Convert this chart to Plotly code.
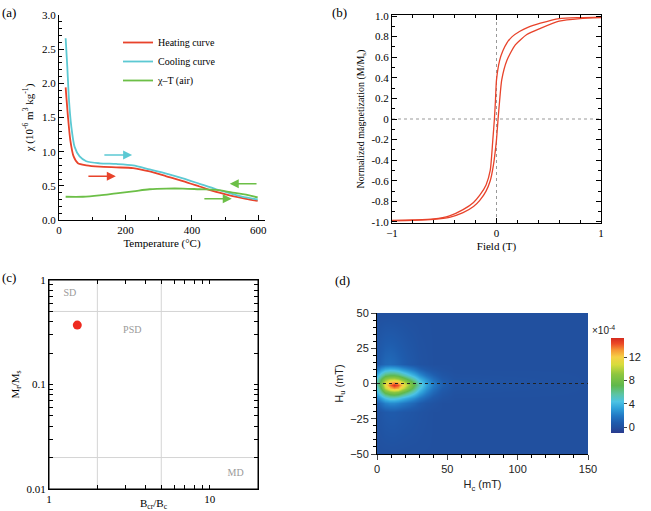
import math
import plotly.graph_objects as go

# ---------------- data ----------------
# (a) susceptibility vs temperature
temp_heat = [20, 27, 34, 44, 57, 82, 122, 172, 223, 273, 323, 373, 423, 473, 523, 563, 598]
chi_heat = [1.94, 1.51, 1.17, 0.93, 0.83, 0.80, 0.78, 0.77, 0.76, 0.71, 0.64, 0.57, 0.49, 0.41, 0.35, 0.31, 0.28]
temp_cool = [20, 25, 30, 37, 47, 62, 82, 122, 172, 223, 273, 323, 373, 423, 473, 523, 563, 598]
chi_cool = [2.66, 2.24, 1.76, 1.37, 1.07, 0.93, 0.86, 0.83, 0.82, 0.80, 0.74, 0.68, 0.61, 0.53, 0.45, 0.38, 0.33, 0.30]
temp_air = [20, 72, 122, 172, 223, 273, 323, 373, 423, 473, 523, 563, 598]
chi_air = [0.34, 0.34, 0.36, 0.39, 0.42, 0.45, 0.46, 0.46, 0.45, 0.44, 0.40, 0.37, 0.33]
legend_names = ["Heating curve", "Cooling curve", "χ–T (air)"]
# arrows: (x_start, x_end, y)
arrow_heat = (84, 171, 0.64)
arrow_cool = (132, 220, 0.95)
arrow_air1 = (599, 514, 0.53)
arrow_air2 = (433, 520, 0.31)
temp_ticks = [0, 200, 400, 600]
chi_ticks = [0.0, 0.5, 1.0, 1.5, 2.0, 2.5, 3.0]

# (b) hysteresis loop
h_desc = [1.0, 0.8, 0.6, 0.42, 0.30, 0.22, 0.15, 0.10, 0.06, 0.03, 0.0, -0.01, -0.02, -0.035, -0.06, -0.10, -0.16, -0.22, -0.32, -0.45, -0.6, -0.8, -1.0]
m_desc = [0.99, 0.985, 0.975, 0.93, 0.89, 0.85, 0.80, 0.74, 0.66, 0.57, 0.38, 0.18, 0.0, -0.2, -0.50, -0.64, -0.74, -0.81, -0.88, -0.94, -0.97, -0.98, -0.985]
h_asc = [-1.0, -0.8, -0.6, -0.45, -0.32, -0.22, -0.16, -0.10, -0.06, -0.03, 0.0, 0.015, 0.03, 0.05, 0.10, 0.18, 0.29, 0.42, 0.6, 0.8, 1.0]
m_asc = [-0.99, -0.985, -0.975, -0.955, -0.91, -0.85, -0.79, -0.70, -0.60, -0.45, -0.2, 0.0, 0.18, 0.38, 0.57, 0.72, 0.82, 0.88, 0.95, 0.975, 0.985]
field_ticks = [-1, 0, 1]
mag_ticks = [1.0, 0.8, 0.6, 0.4, 0.2, 0.0, -0.2, -0.4, -0.6, -0.8, -1.0]
mag_ticktext = ["1.0", "0.8", "0.6", "0.4", "0.2", "0", "-0.2", "-0.4", "-0.6", "-0.8", "-1.0"]

# (c) Day plot
bcr_bc = [1.5]
mr_ms = [0.37]
bcr_bounds = [2, 5]
mr_bounds = [0.5, 0.02]
bcr_span = [1, 20]
mr_span = [0.01, 1]
domain_labels = ["SD", "PSD", "MD"]
domain_label_x = [1.35, 3.3, 14.5]
domain_label_y = [0.75, 0.33, 0.014]
x_ticks_c = [1, 2, 3, 4, 5, 6, 7, 8, 9, 10, 20]
x_ticktext_c = ["1", " ", " ", " ", " ", " ", " ", " ", " ", "10", " "]
y_ticks_c = [0.01, 0.02, 0.03, 0.04, 0.05, 0.06, 0.07, 0.08, 0.09, 0.1,
             0.2, 0.3, 0.4, 0.5, 0.6, 0.7, 0.8, 0.9, 1]
y_ticktext_c = ["0.01", " ", " ", " ", " ", " ", " ", " ", " ", "0.1",
                " ", " ", " ", " ", " ", " ", " ", " ", "1"]

# (d) FORC distribution (x10^-4)
forc_hc = [0, 3, 6, 9, 12, 15, 18, 22, 26, 30, 35, 40, 46, 55, 150]
forc_hu = [-50, -20, -14, -10, -6, -3, -1, 1, 3, 6, 10, 14, 50]
forc_z = [
    [0, 0, 0, 0, 0, 0, 0, 0, 0, 0, 0, 0, 0, 0, 0],
    [0.2, 0.4, 0.6, 0.7, 0.7, 0.6, 0.5, 0.4, 0.3, 0.2, 0.1, 0, 0, 0, 0],
    [1.0, 1.6, 2.2, 2.5, 2.5, 2.3, 2.0, 1.6, 1.2, 0.8, 0.4, 0.2, 0, 0, 0],
    [2.2, 3.2, 4.2, 4.8, 4.8, 4.5, 4.0, 3.3, 2.6, 1.9, 1.2, 0.6, 0.2, 0, 0],
    [3.8, 5.8, 7.6, 8.6, 9.0, 8.6, 7.6, 6.3, 4.9, 3.6, 2.3, 1.3, 0.5, 0.1, 0],
    [4.8, 7.2, 10.2, 12.4, 13.3, 12.8, 10.8, 8.6, 6.4, 4.6, 3.0, 1.8, 0.8, 0.2, 0],
    [5.5, 8.0, 11.2, 13.8, 15.0, 14.2, 12.2, 9.6, 7.2, 5.2, 3.4, 2.1, 1.0, 0.3, 0],
    [5.5, 7.8, 10.4, 12.2, 13.0, 12.4, 10.8, 8.6, 6.6, 4.8, 3.2, 2.0, 0.9, 0.3, 0],
    [5.0, 7.0, 9.0, 10.0, 10.2, 9.6, 8.5, 6.9, 5.4, 4.0, 2.7, 1.6, 0.7, 0.2, 0],
    [3.6, 5.2, 6.5, 7.0, 7.0, 6.6, 5.8, 4.7, 3.7, 2.7, 1.7, 1.0, 0.4, 0.1, 0],
    [1.8, 2.8, 3.5, 3.8, 3.7, 3.4, 2.9, 2.3, 1.7, 1.1, 0.6, 0.3, 0.1, 0, 0],
    [0.6, 1.0, 1.3, 1.4, 1.3, 1.1, 0.9, 0.6, 0.4, 0.2, 0.1, 0, 0, 0, 0],
    [0, 0, 0, 0, 0, 0, 0, 0, 0, 0, 0, 0, 0, 0, 0],
]
cbar_ticks = [0, 4, 8, 12]

# ---------------- styling ----------------
W, H = 651, 511
SERIF = "Liberation Serif"
SANS = "Liberation Sans"
RED = "#e8432b"
CYAN = "#5cc9d3"
GREEN = "#6cbf47"

def px_x(a, b):
    return [a / W, b / W]

def px_y(top, bottom):
    return [1 - bottom / H, 1 - top / H]

fig = go.Figure()

# (a)
fig.add_trace(go.Scatter(x=temp_heat, y=chi_heat, mode="lines", line=dict(color=RED, width=1.8, shape="spline", smoothing=0.7),
                         name=legend_names[0], xaxis="x", yaxis="y"))
fig.add_trace(go.Scatter(x=temp_cool, y=chi_cool, mode="lines", line=dict(color=CYAN, width=1.8, shape="spline", smoothing=0.7),
                         name=legend_names[1], xaxis="x", yaxis="y"))
fig.add_trace(go.Scatter(x=temp_air, y=chi_air, mode="lines", line=dict(color=GREEN, width=1.8, shape="spline"),
                         name=legend_names[2], xaxis="x", yaxis="y"))

# (b)
fig.add_trace(go.Scatter(x=h_desc, y=m_desc, mode="lines", line=dict(color=RED, width=1.3, shape="spline", smoothing=0.6),
                         showlegend=False, xaxis="x2", yaxis="y2"))
fig.add_trace(go.Scatter(x=h_asc, y=m_asc, mode="lines", line=dict(color=RED, width=1.3, shape="spline", smoothing=0.6),
                         showlegend=False, xaxis="x2", yaxis="y2"))

# (c) boundaries
for b in bcr_bounds:
    fig.add_trace(go.Scatter(x=[b, b], y=mr_span, mode="lines", line=dict(color="#d4d4d4", width=1),
                             showlegend=False, hoverinfo="skip", xaxis="x3", yaxis="y3"))
for b in mr_bounds:
    fig.add_trace(go.Scatter(x=bcr_span, y=[b, b], mode="lines", line=dict(color="#d4d4d4", width=1),
                             showlegend=False, hoverinfo="skip", xaxis="x3", yaxis="y3"))
fig.add_trace(go.Scatter(x=domain_label_x, y=domain_label_y, mode="text", text=domain_labels,
                         textfont=dict(family=SERIF, size=10, color="#9a9a9a"),
                         showlegend=False, xaxis="x3", yaxis="y3"))
fig.add_trace(go.Scatter(x=bcr_bc, y=mr_ms, mode="markers", marker=dict(color="#ee2a1f", size=9),
                         showlegend=False, xaxis="x3", yaxis="y3"))

# (d)
colorscale = [
    [0.0, "#2a3a8e"], [0.06, "#21509f"], [0.11, "#1f5cad"], [0.18, "#2278c4"],
    [0.26, "#2fa2da"], [0.33, "#4cc3e4"], [0.41, "#5cc4a2"], [0.50, "#5fb84c"], [0.62, "#8ec63f"],
    [0.72, "#d8dc3c"], [0.80, "#f6d046"], [0.87, "#f59a35"], [0.94, "#ec4a27"], [1.0, "#d42a1e"],
]
fig.add_trace(go.Heatmap(
    x=forc_hc, y=forc_hu, z=forc_z, zsmooth="best", zmin=-1, zmax=15.3,
    colorscale=colorscale, xaxis="x4", yaxis="y4",
    colorbar=dict(x=611 / W, xanchor="left", thickness=13, thicknessmode="pixels",
                  len=95 / H, lenmode="fraction", y=1 - 385.5 / H, yanchor="middle", ypad=0, xpad=0,
                  tickvals=cbar_ticks, ticks="outside", ticklen=3, outlinewidth=0,
                  tickfont=dict(family=SANS, size=11, color="#222")),
))

axis_common = dict(showline=True, linecolor="black", linewidth=1, showgrid=False, zeroline=False,
                   tickfont=dict(family=SERIF, size=11, color="black"), ticks="inside", ticklen=5,
                   tickcolor="black", automargin=False)

fig.update_layout(
    width=W, height=H, margin=dict(l=0, r=0, t=0, b=0),
    paper_bgcolor="white", plot_bgcolor="white",
    font=dict(family=SERIF, size=11, color="black"),
    showlegend=True,
    legend=dict(x=118 / W, y=1 - 28 / H, xanchor="left", yanchor="top", bgcolor="rgba(0,0,0,0)",
                font=dict(family=SERIF, size=10), tracegroupgap=0, itemwidth=30),
    xaxis=dict(axis_common, domain=px_x(59, 265), range=[0, 620], tickvals=temp_ticks, anchor="y",
               minor=dict(dtick=100, ticks="inside", ticklen=3, tickcolor="black"),
               title=dict(text="Temperature (°C)", font=dict(size=11), standoff=4)),
    yaxis=dict(axis_common, domain=px_y(15, 220), range=[0, 3.0], tickvals=chi_ticks, tickformat=".1f", anchor="x",
               minor=dict(dtick=0.1, ticks="inside", ticklen=3, tickcolor="black"),
               title=dict(text="χ (10<sup>-6</sup> m<sup>3</sup> kg<sup>-1</sup>)", font=dict(size=11), standoff=6)),
    xaxis2=dict(axis_common, domain=px_x(392, 601), range=[-1, 1], tickvals=field_ticks, anchor="y2", mirror="ticks",
                minor=dict(dtick=0.2, ticks="inside", ticklen=3, tickcolor="black"),
                title=dict(text="Field (T)", font=dict(size=11), standoff=4)),
    yaxis2=dict(axis_common, domain=px_y(15, 223), range=[-1.01, 1.01], tickvals=mag_ticks, ticktext=mag_ticktext,
                anchor="x2", mirror="ticks",
                minor=dict(dtick=0.1, ticks="inside", ticklen=3, tickcolor="black"),
                title=dict(text="Normalized magnetization (M/M<sub>s</sub>)", font=dict(size=10), standoff=4)),
    xaxis3=dict(domain=px_x(49, 258), type="log", range=[0, math.log10(20)], anchor="y3", mirror="ticks",
                showline=True, linecolor="black", linewidth=1, ticks="inside", ticklen=4, tickcolor="black",
                showgrid=False, zeroline=False, tickangle=0, automargin=False,
                tickvals=x_ticks_c, ticktext=x_ticktext_c,
                tickfont=dict(family=SERIF, size=11, color="black"),
                title=dict(text="B<sub>cr</sub>/B<sub>c</sub>", font=dict(family=SERIF, size=11), standoff=4)),
    yaxis3=dict(domain=px_y(280, 489), type="log", range=[-2, 0], anchor="x3", mirror="ticks",
                showline=True, linecolor="black", linewidth=1, ticks="inside", ticklen=4, tickcolor="black",
                showgrid=False, zeroline=False, tickangle=0, automargin=False,
                tickvals=y_ticks_c, ticktext=y_ticktext_c,
                tickfont=dict(family=SERIF, size=11, color="black"),
                title=dict(text="M<sub>r</sub>/M<sub>s</sub>", font=dict(family=SERIF, size=11), standoff=4)),
    xaxis4=dict(domain=px_x(377, 588), range=[0, 150], tickvals=[0, 50, 100, 150], anchor="y4",
                showline=True, linecolor="black", showgrid=False, zeroline=False, ticks="outside", ticklen=5,
                tickfont=dict(family=SANS, size=11, color="#222"), automargin=False,
                minor=dict(dtick=10, ticks="outside", ticklen=3, tickcolor="black"),
                title=dict(text="H<sub>c</sub> (mT)", font=dict(family=SANS, size=11, color="#222"), standoff=6)),
    yaxis4=dict(domain=px_y(313, 454), range=[-50, 50], tickvals=[-50, -25, 0, 25, 50], anchor="x4",
                showline=True, linecolor="black", showgrid=False, zeroline=False, ticks="outside", ticklen=5,
                tickfont=dict(family=SANS, size=11, color="#222"), automargin=False,
                minor=dict(dtick=5, ticks="outside", ticklen=3, tickcolor="black"),
                title=dict(text="H<sub>u</sub> (mT)", font=dict(family=SANS, size=11, color="#222"), standoff=4)),
)

# box around (c) (guarantees the frame)
fig.add_shape(type="rect", xref="x3 domain", yref="y3 domain", x0=0, x1=1, y0=0, y1=1,
              line=dict(color="black", width=1))

# arrows in (a)
for (xs, xe, yv), col in [(arrow_heat, RED), (arrow_cool, CYAN), (arrow_air1, GREEN), (arrow_air2, GREEN)]:
    fig.add_annotation(x=xe, y=yv, ax=xs, ay=yv, xref="x", yref="y", axref="x", ayref="y",
                       text="", showarrow=True, arrowhead=2, arrowsize=1.2, arrowwidth=1.5, arrowcolor=col)

# (b) zero lines
fig.add_shape(type="line", xref="x2", yref="y2 domain", x0=0, x1=0, y0=0, y1=1,
              line=dict(color="#999", width=1, dash="dot"), layer="below")
fig.add_shape(type="line", xref="x2 domain", yref="y2", x0=0, x1=1, y0=0, y1=0,
              line=dict(color="#999", width=1, dash="dot"), layer="below")

# (d) Hu = 0 dotted line
fig.add_shape(type="line", xref="x4 domain", yref="y4", x0=0, x1=1, y0=0, y1=0,
              line=dict(color="#222", width=1.2, dash="dot"))
# colorbar multiplier label
fig.add_annotation(x=617 / W, y=1 - 330 / H, xref="paper", yref="paper", text="×10<sup>-4</sup>",
                   showarrow=False, font=dict(family=SANS, size=10, color="#222"))

# panel labels
for lab, lx, ly in [("(a)", 0, 3), ("(b)", 330, 3), ("(c)", 0, 268), ("(d)", 333, 271)]:
    fig.add_annotation(x=lx / W, y=1 - ly / H, xref="paper", yref="paper", xanchor="left", yanchor="top",
                       text=lab, showarrow=False, font=dict(family=SERIF, size=13, color="black"))

fig.write_html("out.html")
